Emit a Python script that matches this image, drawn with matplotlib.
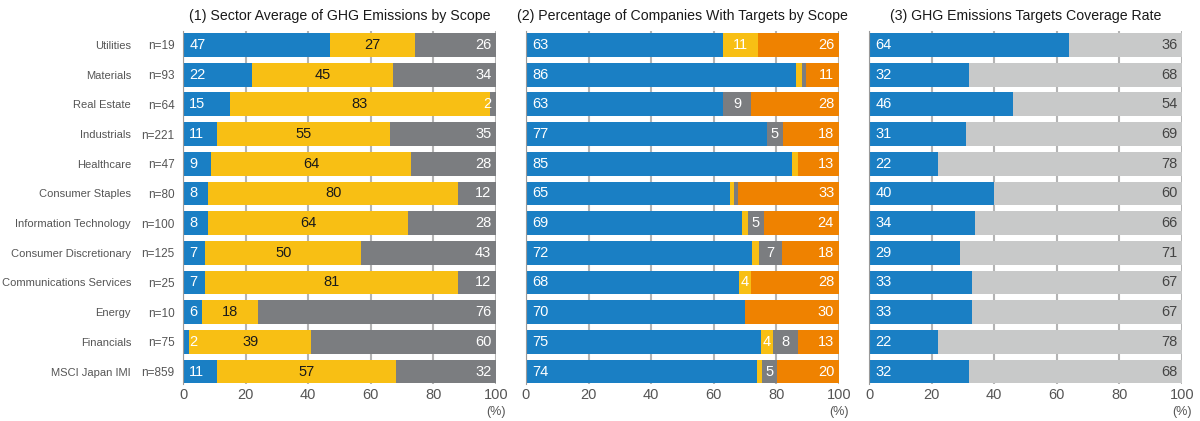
import matplotlib.pyplot as plt
from matplotlib.transforms import blended_transform_factory

plt.rcParams['font.family'] = ['Liberation Sans', 'DejaVu Sans']

# Categories and sample counts
sectors = ['Utilities', 'Materials', 'Real Estate', 'Industrials', 'Healthcare',
           'Consumer Staples', 'Information Technology', 'Consumer Discretionary',
           'Communications Services', 'Energy', 'Financials', 'MSCI Japan IMI']
counts = ['n=19', 'n=93', 'n=64', 'n=221', 'n=47', 'n=80', 'n=100', 'n=125',
          'n=25', 'n=10', 'n=75', 'n=859']

# (1) Sector average of GHG emissions by scope
p1_scope1 = [47, 22, 15, 11, 9, 8, 8, 7, 7, 6, 2, 11]
p1_scope2 = [27, 45, 83, 55, 64, 80, 64, 50, 81, 18, 39, 57]
p1_scope3 = [26, 34, 2, 35, 28, 12, 28, 43, 12, 76, 60, 32]

# (2) Percentage of companies with targets by scope
p2_blue = [63, 86.3, 63, 77, 85, 65.2, 69, 72.2, 68, 70, 75, 73.8]
p2_yellow = [11, 1.8, 0, 0, 2, 1.3, 1.9, 2.2, 4, 0, 4, 1.6]
p2_grey = [0, 1.4, 9, 5, 0, 1.3, 5, 7.4, 0, 0, 8, 4.8]
p2_orange = [26, 11, 28, 18, 13, 33, 24, 18.2, 28, 30, 13, 19.8]

# (3) GHG emissions targets coverage rate
p3_covered = [64, 32, 46, 31, 22, 40, 34, 29, 33, 33, 22, 32]
p3_rest = [36, 68, 54, 69, 78, 60, 66, 71, 67, 67, 78, 68]

titles = ['(1) Sector Average of GHG Emissions by Scope',
          '(2) Percentage of Companies With Targets by Scope',
          '(3) GHG Emissions Targets Coverage Rate']

BLUE = '#1a7fc4'
YELLOW = '#f8bf14'
GREY = '#7b7d80'
ORANGE = '#ef8200'
LIGHT = '#c8c9c9'

fig = plt.figure(figsize=(12, 4.21), dpi=100)
lefts = [183 / 1200, 526 / 1200, 869 / 1200]
axes = [fig.add_axes([l, 1 - 384 / 421, 313 / 1200, 353 / 421]) for l in lefts]

ypos = list(range(len(sectors)))
H = 0.8


def stack(ax, series, colors, label_cfg):
    left = [0] * len(ypos)
    for vals, col, (mode, tcol, minv) in zip(series, colors, label_cfg):
        ax.barh(ypos, vals, left=left, height=H, color=col, zorder=2)
        for i, v in enumerate(vals):
            if mode is not None and v >= minv:
                txt = '%d' % round(v)
                if mode == 'left':
                    ax.text(left[i] + 2, i, txt, ha='left', va='center',
                            color=tcol, fontsize=10.5, zorder=3)
                elif mode == 'right':
                    ax.text(min(left[i] + v, 100) - 1.5, i, txt, ha='right',
                            va='center', color=tcol, fontsize=10.5, zorder=3)
                else:
                    ax.text(left[i] + v / 2, i, txt, ha='center', va='center',
                            color=tcol, fontsize=10.5, zorder=3)
        left = [a + b for a, b in zip(left, vals)]


stack(axes[0], [p1_scope1, p1_scope2, p1_scope3], [BLUE, YELLOW, GREY],
      [('left', 'white', 0), ('center', '#1a1a1a', 0), ('right', 'white', 0)])
stack(axes[1], [p2_blue, p2_yellow, p2_grey, p2_orange], [BLUE, YELLOW, GREY, ORANGE],
      [('left', 'white', 0), ('center', 'white', 3.5), ('center', 'white', 3.5),
       ('right', 'white', 3.5)])
stack(axes[2], [p3_covered, p3_rest], [BLUE, LIGHT],
      [('left', 'white', 0), ('right', '#444444', 0)])

for k, ax in enumerate(axes):
    ax.set_xlim(0, 100)
    ax.set_ylim(11.42, -0.47)
    ax.set_xticks([0, 20, 40, 60, 80, 100])
    ax.tick_params(axis='x', length=0, labelsize=10.5, labelcolor='#555555', pad=3)
    ax.grid(axis='x', color='#b4b4b4', linewidth=1.5, zorder=0)
    for s in ['top', 'right', 'bottom']:
        ax.spines[s].set_visible(False)
    ax.spines['left'].set_color('#9a9a9a')
    ax.set_title(titles[k], fontsize=10.2, color='#1a1a1a', pad=8)
    ax.text(100, -0.062, '(%)',
            transform=blended_transform_factory(ax.transData, ax.transAxes),
            ha='center', va='top', fontsize=9, color='#555555')
    if k == 0:
        ax.set_yticks(ypos)
        ax.set_yticklabels(counts)
        ax.tick_params(axis='y', length=0, labelsize=8.5, labelcolor='#555555', pad=6)
        tr = blended_transform_factory(ax.transAxes, ax.transData)
        for i, name in enumerate(sectors):
            ax.text(-0.166, i, name, transform=tr, ha='right', va='center_baseline',
                    fontsize=8, color='#555555')
    else:
        ax.set_yticks([])

fig.savefig('out.png', dpi=100)
